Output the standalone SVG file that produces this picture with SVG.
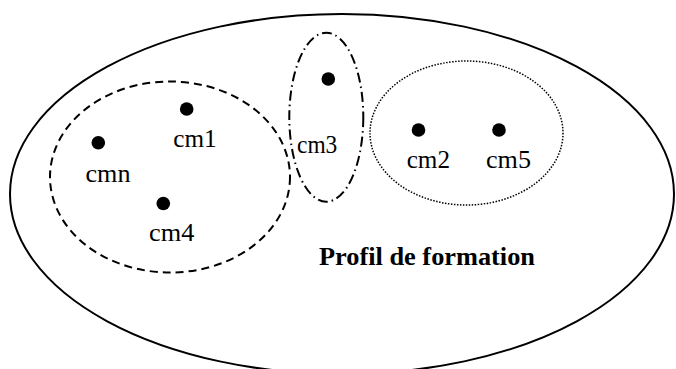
<svg xmlns="http://www.w3.org/2000/svg" width="676" height="369" viewBox="0 0 676 369">
<style>
.lbl{font-family:"Liberation Serif","Times New Roman",serif;font-size:25px;fill:#000}
.title{font-family:"Liberation Serif","Times New Roman",serif;font-size:25px;font-weight:bold;fill:#000}
.grp{fill:none;stroke:#000}
.dot{fill:#000}
</style>
<rect width="676" height="369" fill="#fff"/>
<g id="profil">
<ellipse class="grp" cx="342" cy="194" rx="332" ry="180" stroke-width="2"/>
<text class="title" x="319" y="264.5" textLength="216" lengthAdjust="spacingAndGlyphs">Profil de formation</text>
</g>
<g id="groupe-tirets">
<ellipse class="grp" cx="170" cy="177" rx="120" ry="95.5" stroke-width="2" stroke-dasharray="8 5"/>
</g>
<g id="groupe-tiret-point">
<ellipse class="grp" cx="326.3" cy="117.2" rx="37" ry="84.5" stroke-width="2" stroke-dasharray="10 4 1.5 4"/>
</g>
<g id="groupe-pointille">
<ellipse class="grp" cx="466.5" cy="133" rx="96.5" ry="72" stroke-width="1.5" stroke-dasharray="1.5 1.5"/>
</g>
<g id="cm1"><circle class="dot" cx="186.7" cy="109" r="6.8"/><text class="lbl" x="173.3" y="146.7" textLength="43.4" lengthAdjust="spacingAndGlyphs">cm1</text></g>
<g id="cmn"><circle class="dot" cx="98.3" cy="142.7" r="6.8"/><text class="lbl" x="85.5" y="181.5" textLength="45" lengthAdjust="spacingAndGlyphs">cmn</text></g>
<g id="cm4"><circle class="dot" cx="163.3" cy="203.5" r="6.8"/><text class="lbl" x="149" y="240.7" textLength="45.3" lengthAdjust="spacingAndGlyphs">cm4</text></g>
<g id="cm3"><circle class="dot" cx="328.3" cy="79" r="6.8"/><text class="lbl" x="297" y="153.3" textLength="40.3" lengthAdjust="spacingAndGlyphs">cm3</text></g>
<g id="cm2"><circle class="dot" cx="418.5" cy="130" r="6.8"/><text class="lbl" x="406.7" y="168.3" textLength="43.3" lengthAdjust="spacingAndGlyphs">cm2</text></g>
<g id="cm5"><circle class="dot" cx="499" cy="130" r="6.8"/><text class="lbl" x="486" y="168.3" textLength="45" lengthAdjust="spacingAndGlyphs">cm5</text></g>
</svg>
